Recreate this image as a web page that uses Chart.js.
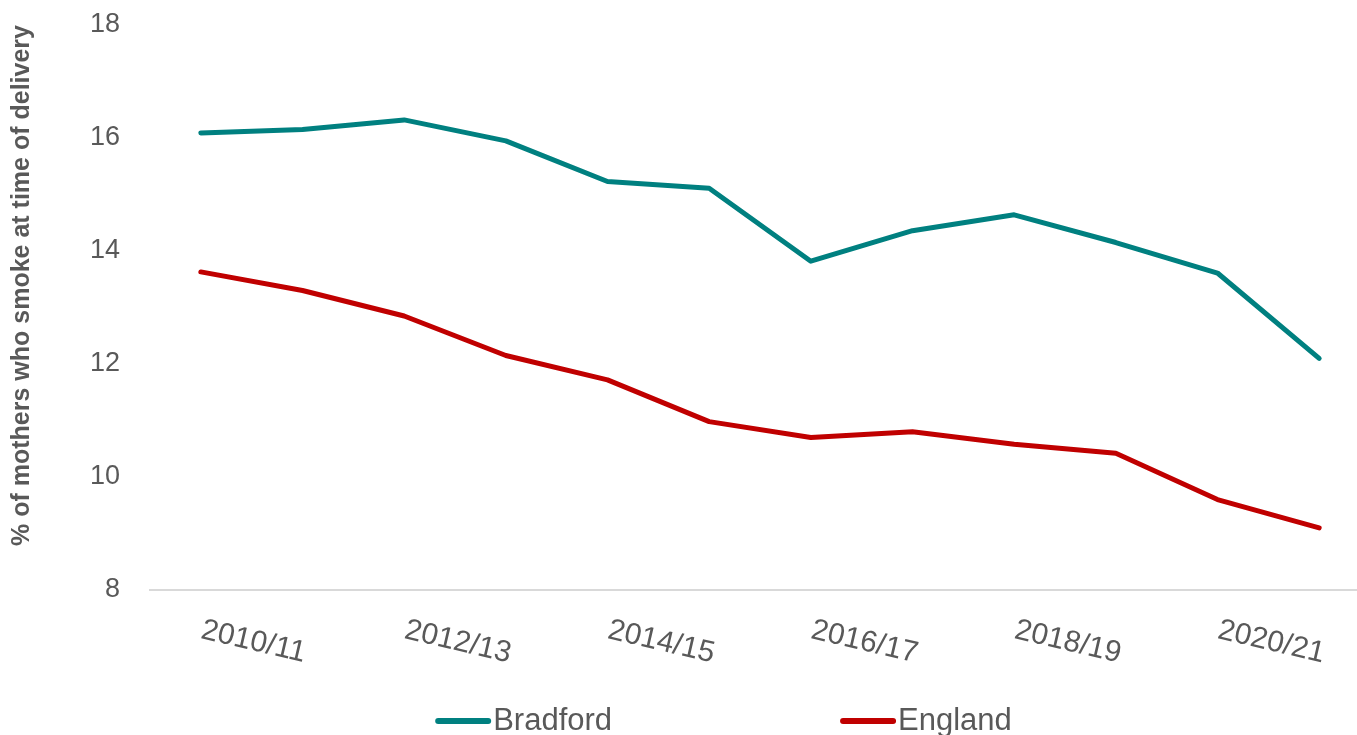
<!DOCTYPE html>
<html>
<head>
<meta charset="utf-8">
<script src="https://cdn.jsdelivr.net/npm/chart.js@4.4.1/dist/chart.umd.min.js"></script>
<style>
  html, body { margin: 0; padding: 0; overflow: hidden; background: #ffffff; }
  canvas { display: block; }
</style>
</head>
<body>
<canvas id="chart" width="1370" height="735"></canvas>
<script>
// ---- data ----
const categories = ['2010/11', '2011/12', '2012/13', '2013/14', '2014/15', '2015/16',
                    '2016/17', '2017/18', '2018/19', '2019/20', '2020/21', '2021/22'];
const bradford = [16.09, 16.15, 16.32, 15.95, 15.23, 15.11, 13.82, 14.36, 14.64, 14.15, 13.61, 12.1];
const england  = [13.63, 13.3, 12.85, 12.15, 11.72, 10.98, 10.7, 10.8, 10.58, 10.42, 9.6, 9.1];
const xTickLabels = ['2010/11', '2012/13', '2014/15', '2016/17', '2018/19', '2020/21'];
const yTicks = [8, 10, 12, 14, 16, 18];
const yTitle = '% of mothers who smoke at time of delivery';

// ---- style ----
const FONT = '"Liberation Sans", Arial, sans-serif';
const GREY = '#595959';

const xLabelPlugin = {
  id: 'xLabels',
  afterDraw(chart) {
    const xs = chart.scales.x;
    const ctx = chart.ctx;
    ctx.save();
    ctx.font = '30px ' + FONT;
    ctx.fillStyle = GREY;
    ctx.textAlign = 'left';
    ctx.textBaseline = 'alphabetic';
    xTickLabels.forEach(lbl => {
      const i = categories.indexOf(lbl);
      const px = xs.getPixelForValue(i);
      ctx.save();
      ctx.translate(px - 1, xs.top + 48);
      ctx.rotate(13 * Math.PI / 180);
      ctx.fillText(lbl, 0, 0);
      ctx.restore();
    });
    ctx.restore();
  }
};

const legendPlugin = {
  id: 'customLegend',
  afterDraw(chart) {
    const ctx = chart.ctx;
    const SAMPLE = 56, GAP = 2, ITEM_GAP = 228, CENTER = 723.5, Y = 721;
    ctx.save();
    ctx.font = '31px ' + FONT;
    const items = chart.data.datasets.map(d => ({ label: d.label, color: d.borderColor }));
    const widths = items.map(it => SAMPLE + GAP + ctx.measureText(it.label).width);
    const total = widths.reduce((a, b) => a + b, 0) + ITEM_GAP * (items.length - 1);
    let x = CENTER - total / 2;
    items.forEach((it, k) => {
      ctx.strokeStyle = it.color;
      ctx.lineWidth = 6;
      ctx.lineCap = 'round';
      ctx.beginPath();
      ctx.moveTo(x + 3, Y);
      ctx.lineTo(x + SAMPLE - 3, Y);
      ctx.stroke();
      ctx.fillStyle = GREY;
      ctx.textAlign = 'left';
      ctx.textBaseline = 'middle';
      ctx.fillText(it.label, x + SAMPLE + GAP, Y);
      x += widths[k] + ITEM_GAP;
    });
    ctx.restore();
  }
};

new Chart(document.getElementById('chart'), {
  type: 'line',
  data: {
    labels: categories,
    datasets: [
      { label: 'Bradford', data: bradford, borderColor: '#008080', backgroundColor: '#008080',
        borderWidth: 5, pointRadius: 0, tension: 0, borderJoinStyle: 'round', borderCapStyle: 'round' },
      { label: 'England', data: england, borderColor: '#C00000', backgroundColor: '#C00000',
        borderWidth: 5, pointRadius: 0, tension: 0, borderJoinStyle: 'round', borderCapStyle: 'round' }
    ]
  },
  options: {
    responsive: false,
    animation: false,
    layout: { padding: { top: 25, left: 0, right: 0, bottom: 0 } },
    plugins: { legend: { display: false }, tooltip: { enabled: false } },
    scales: {
      x: {
        type: 'category',
        offset: true,
        grid: { display: false, drawTicks: false },
        border: { display: true, color: '#D9D9D9', width: 2 },
        ticks: { display: false },
        afterFit: s => { s.height = 145; s.paddingLeft = 0; s.paddingRight = 0; }
      },
      y: {
        min: 8, max: 18,
        afterBuildTicks: s => { s.ticks = yTicks.map(v => ({ value: v })); },
        grid: { display: false, drawTicks: false },
        border: { display: false },
        ticks: { color: GREY, padding: 30, font: { family: FONT, size: 27 } },
        title: {
          display: true, text: yTitle, align: 'end', color: GREY,
          font: { family: FONT, size: 25, weight: 'bold' },
          padding: { top: 7, bottom: 0 }
        },
        afterFit: s => { s.width = 150; s.paddingTop = 0; s.paddingBottom = 0; }
      }
    }
  },
  plugins: [xLabelPlugin, legendPlugin]
});
</script>
</body>
</html>
